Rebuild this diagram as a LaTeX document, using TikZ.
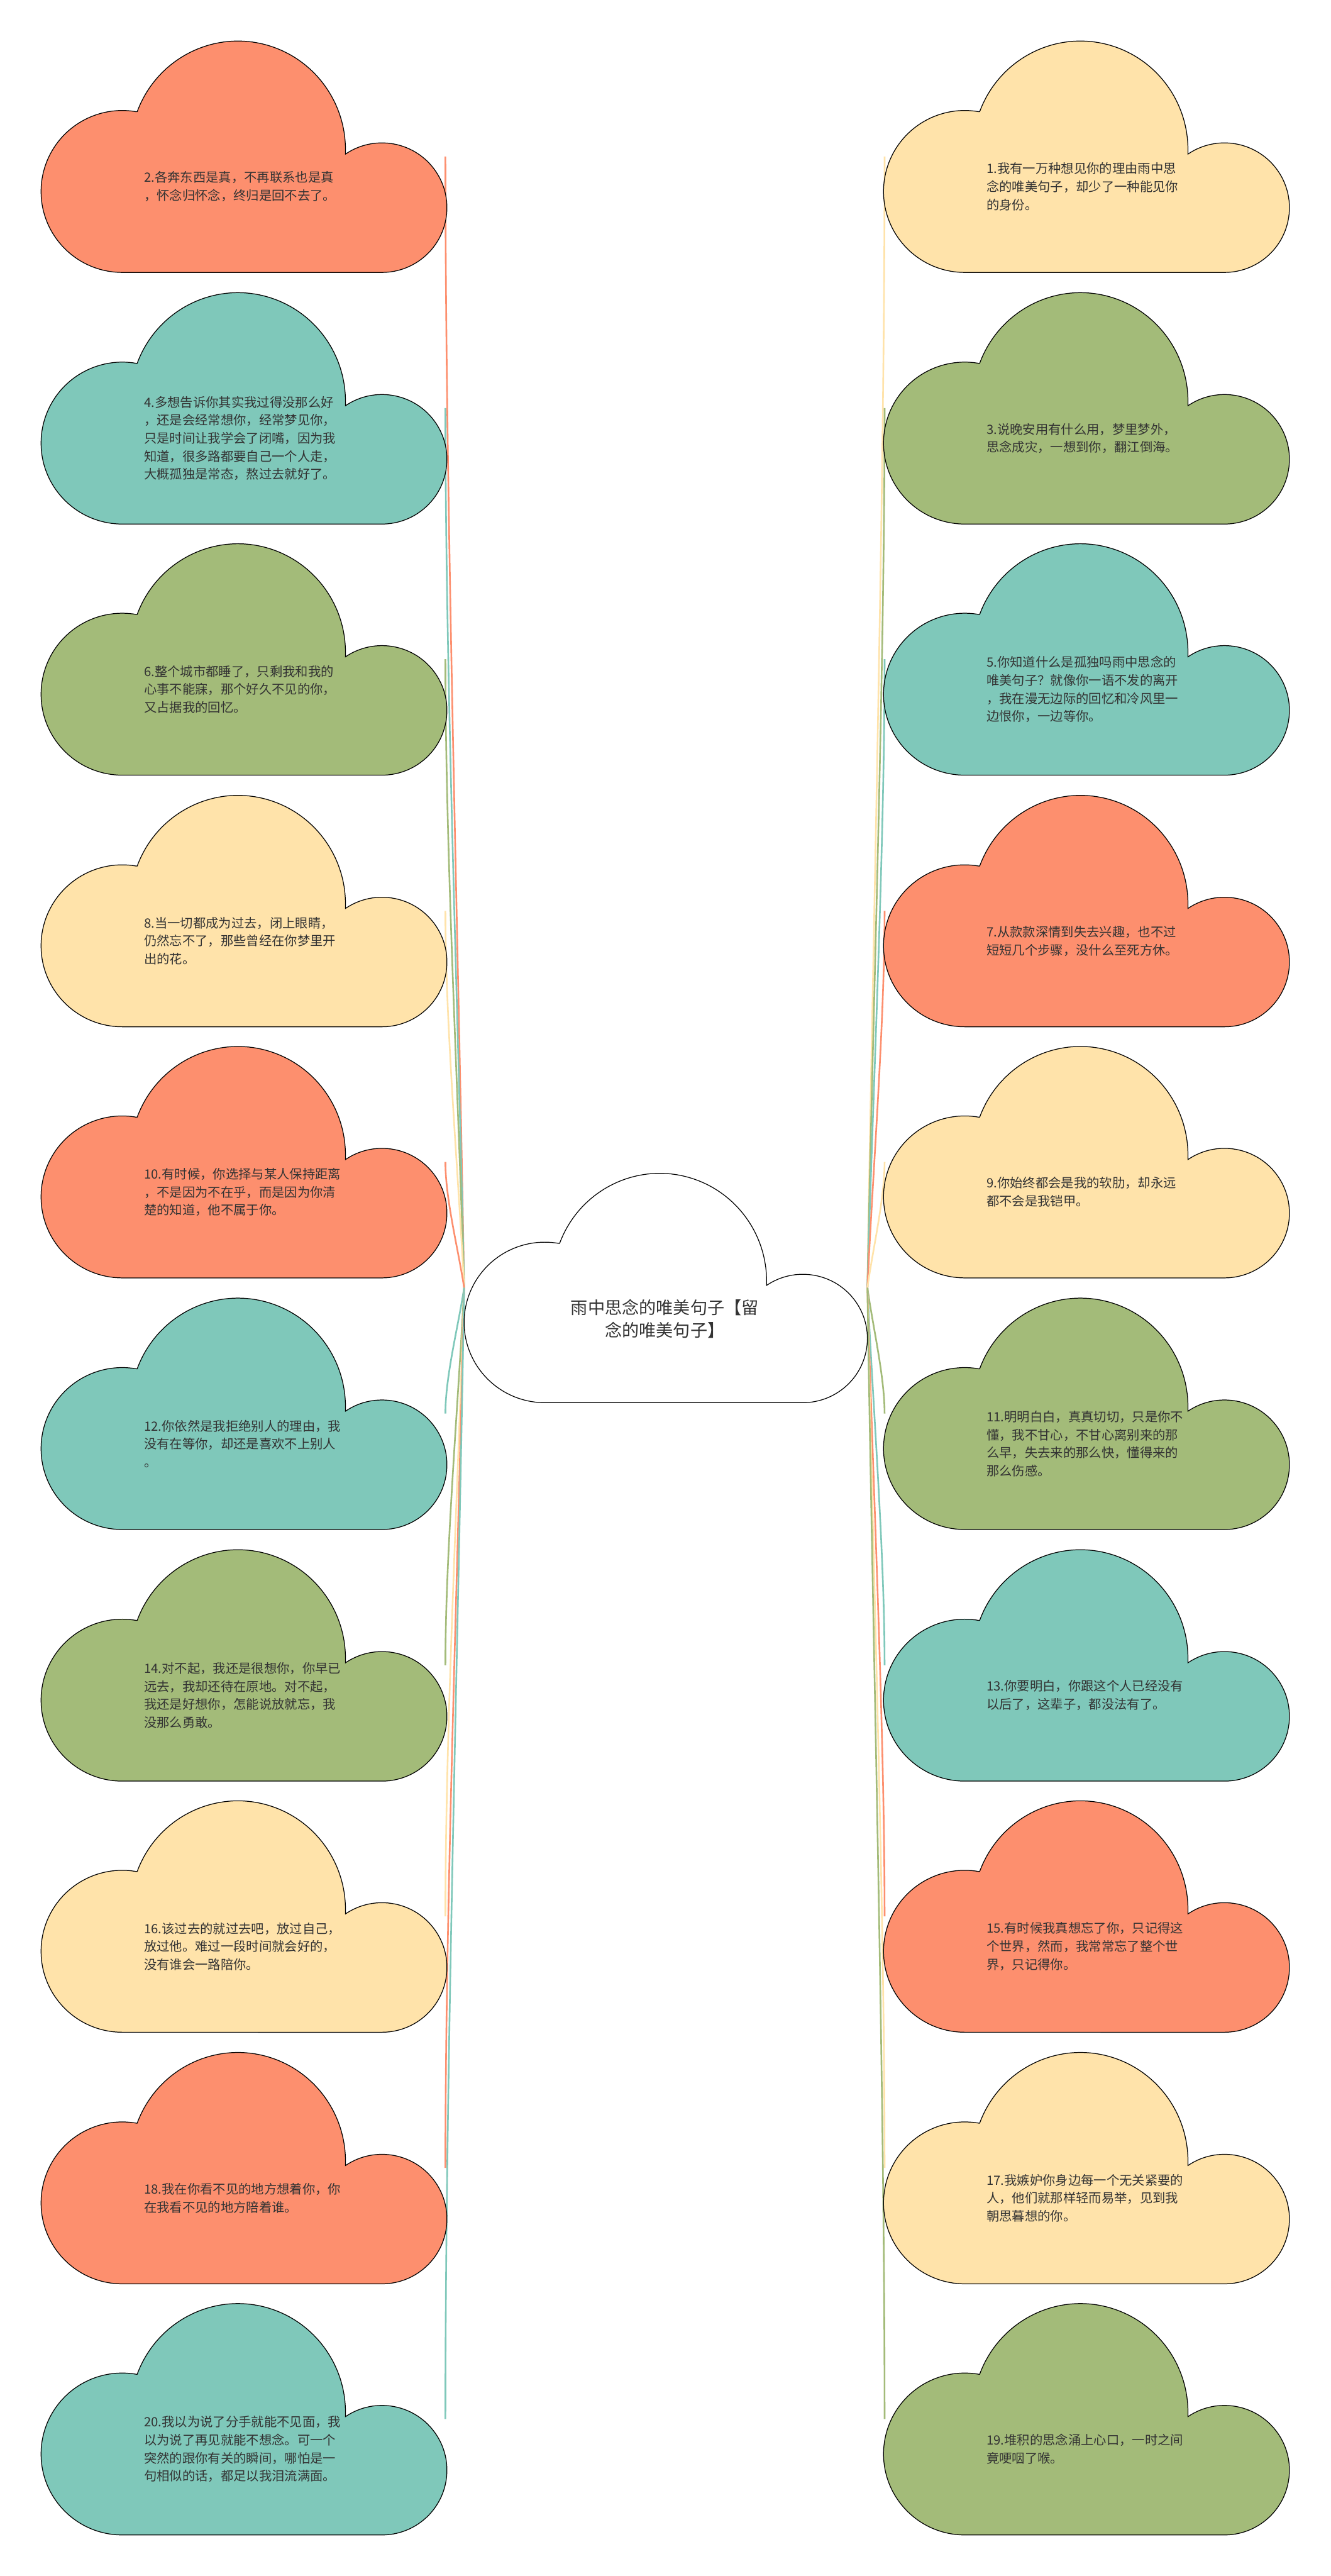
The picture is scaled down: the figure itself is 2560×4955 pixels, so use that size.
\documentclass[tikz,border=0pt]{standalone}
\usepackage{fontspec}
\setmainfont{Noto Sans CJK SC}
\usetikzlibrary{calc}

\definecolor{cOrange}{HTML}{FD8F6E}
\definecolor{cTeal}{HTML}{7FC8BA}
\definecolor{cGreen}{HTML}{A3BB79}
\definecolor{cYellow}{HTML}{FFE3AA}
\definecolor{txt}{HTML}{333333}

% cloud outline: left, bottom, width, height, fill
\newcommand{\drawcloud}[5]{%
  \begin{scope}[shift={(#1,#2)},xscale=#3,yscale=#4]
    \path[cloudline,fill=#5] (0.20,0)
      arc[start angle=270,end angle=80,x radius=0.20,y radius=0.35]
      -- (0.2368,0.6947)
      arc[start angle=159.5,end angle=0,x radius=0.265,y radius=0.47]
      -- (0.75,0.5115)
      arc[start angle=124.2,end angle=-90,x radius=0.16,y radius=0.28]
      -- cycle;
  \end{scope}}

\tikzset{
  cloudline/.style={draw=black,line width=0.85pt},
  item/.style={anchor=west,align=left,text=txt,inner sep=0pt,
    font=\fontsize{14pt}{19.7pt}\selectfont},
  hub/.style={align=center,text=txt,inner sep=0pt,
    font=\fontsize{18.7pt}{25pt}\selectfont},
  link/.style={line width=1.8pt},
}

\begin{document}
\begin{tikzpicture}[x=0.2mm,y=0.2mm]
  \path[fill=white] (0,0) rectangle (2560,-4955);

  % connector ends
  \coordinate (cl) at (893,-2477);
  \coordinate (cr) at (1669,-2477);
  \coordinate (e2) at (857,-301);
  \coordinate (e4) at (857,-785);
  \coordinate (e6) at (857,-1268);
  \coordinate (e8) at (857,-1752);
  \coordinate (e10) at (857,-2235);
  \coordinate (e12) at (857,-2719);
  \coordinate (e14) at (857,-3203);
  \coordinate (e16) at (857,-3686);
  \coordinate (e18) at (857,-4170);
  \coordinate (e20) at (857,-4653);
  \coordinate (e1) at (1702,-301);
  \coordinate (e3) at (1702,-785);
  \coordinate (e5) at (1702,-1268);
  \coordinate (e7) at (1702,-1752);
  \coordinate (e9) at (1702,-2235);
  \coordinate (e11) at (1702,-2719);
  \coordinate (e13) at (1702,-3203);
  \coordinate (e15) at (1702,-3686);
  \coordinate (e17) at (1702,-4170);
  \coordinate (e19) at (1702,-4653);

  \foreach \s/\e/\c in {cl/e2/cOrange,cl/e4/cTeal,cl/e6/cGreen,cl/e8/cYellow,
      cl/e10/cOrange,cl/e12/cTeal,cl/e14/cGreen,cl/e16/cYellow,cl/e18/cOrange,
      cl/e20/cTeal,cr/e1/cYellow,cr/e3/cGreen,cr/e5/cTeal,cr/e7/cOrange,
      cr/e9/cYellow,cr/e11/cGreen,cr/e13/cTeal,cr/e15/cOrange,cr/e17/cYellow,
      cr/e19/cGreen}{
    \coordinate (m1) at ($(\s)!0.3!(\e)$);
    \coordinate (m2) at ($(\s)!0.7!(\e)$);
    \draw[link,\c] (\s) .. controls (m1) and (\e |- m2) .. (\e);
  }

  % centre
  \drawcloud{893}{-2698}{776}{441}{white}
  \node[hub] (root) at (1279,-2537) {雨中思念的唯美句子【留\\念的唯美句子】};

  % left column
  \drawcloud{79}{-524}{781}{445}{cOrange}
  \node[item] (n2) at (277,-359) {2.各奔东西是真，不再联系也是真\\，怀念归怀念，终归是回不去了。};
  \drawcloud{79}{-1008}{781}{445}{cTeal}
  \node[item] (n4) at (277,-843) {4.多想告诉你其实我过得没那么好\\，还是会经常想你，经常梦见你，\\只是时间让我学会了闭嘴，因为我\\知道，很多路都要自己一个人走，\\大概孤独是常态，熬过去就好了。};
  \drawcloud{79}{-1491}{781}{445}{cGreen}
  \node[item] (n6) at (277,-1326) {6.整个城市都睡了，只剩我和我的\\心事不能寐，那个好久不见的你，\\又占据我的回忆。};
  \drawcloud{79}{-1975}{781}{445}{cYellow}
  \node[item] (n8) at (277,-1810) {8.当一切都成为过去，闭上眼睛，\\仍然忘不了，那些曾经在你梦里开\\出的花。};
  \drawcloud{79}{-2458}{781}{445}{cOrange}
  \node[item] (n10) at (277,-2293) {10.有时候，你选择与某人保持距离\\，不是因为不在乎，而是因为你清\\楚的知道，他不属于你。};
  \drawcloud{79}{-2942}{781}{445}{cTeal}
  \node[item] (n12) at (277,-2777) {12.你依然是我拒绝别人的理由，我\\没有在等你，却还是喜欢不上别人\\。};
  \drawcloud{79}{-3426}{781}{445}{cGreen}
  \node[item] (n14) at (277,-3261) {14.对不起，我还是很想你，你早已\\远去，我却还待在原地。对不起，\\我还是好想你，怎能说放就忘，我\\没那么勇敢。};
  \drawcloud{79}{-3909}{781}{445}{cYellow}
  \node[item] (n16) at (277,-3744) {16.该过去的就过去吧，放过自己，\\放过他。难过一段时间就会好的，\\没有谁会一路陪你。};
  \drawcloud{79}{-4393}{781}{445}{cOrange}
  \node[item] (n18) at (277,-4228) {18.我在你看不见的地方想着你，你\\在我看不见的地方陪着谁。};
  \drawcloud{79}{-4876}{781}{445}{cTeal}
  \node[item] (n20) at (277,-4711) {20.我以为说了分手就能不见面，我\\以为说了再见就能不想念。可一个\\突然的跟你有关的瞬间，哪怕是一\\句相似的话，都足以我泪流满面。};

  % right column
  \drawcloud{1700}{-524}{781}{445}{cYellow}
  \node[item] (n1) at (1898,-359) {1.我有一万种想见你的理由雨中思\\念的唯美句子，却少了一种能见你\\的身份。};
  \drawcloud{1700}{-1008}{781}{445}{cGreen}
  \node[item] (n3) at (1898,-843) {3.说晚安用有什么用，梦里梦外，\\思念成灾，一想到你，翻江倒海。};
  \drawcloud{1700}{-1491}{781}{445}{cTeal}
  \node[item] (n5) at (1898,-1326) {5.你知道什么是孤独吗雨中思念的\\唯美句子？就像你一语不发的离开\\，我在漫无边际的回忆和冷风里一\\边恨你，一边等你。};
  \drawcloud{1700}{-1975}{781}{445}{cOrange}
  \node[item] (n7) at (1898,-1810) {7.从款款深情到失去兴趣，也不过\\短短几个步骤，没什么至死方休。};
  \drawcloud{1700}{-2458}{781}{445}{cYellow}
  \node[item] (n9) at (1898,-2293) {9.你始终都会是我的软肋，却永远\\都不会是我铠甲。};
  \drawcloud{1700}{-2942}{781}{445}{cGreen}
  \node[item] (n11) at (1898,-2777) {11.明明白白，真真切切，只是你不\\懂，我不甘心，不甘心离别来的那\\么早，失去来的那么快，懂得来的\\那么伤感。};
  \drawcloud{1700}{-3426}{781}{445}{cTeal}
  \node[item] (n13) at (1898,-3261) {13.你要明白，你跟这个人已经没有\\以后了，这辈子，都没法有了。};
  \drawcloud{1700}{-3909}{781}{445}{cOrange}
  \node[item] (n15) at (1898,-3744) {15.有时候我真想忘了你，只记得这\\个世界，然而，我常常忘了整个世\\界，只记得你。};
  \drawcloud{1700}{-4393}{781}{445}{cYellow}
  \node[item] (n17) at (1898,-4228) {17.我嫉妒你身边每一个无关紧要的\\人，他们就那样轻而易举，见到我\\朝思暮想的你。};
  \drawcloud{1700}{-4876}{781}{445}{cGreen}
  \node[item] (n19) at (1898,-4711) {19.堆积的思念涌上心口，一时之间\\竟哽咽了喉。};
\end{tikzpicture}
\end{document}
